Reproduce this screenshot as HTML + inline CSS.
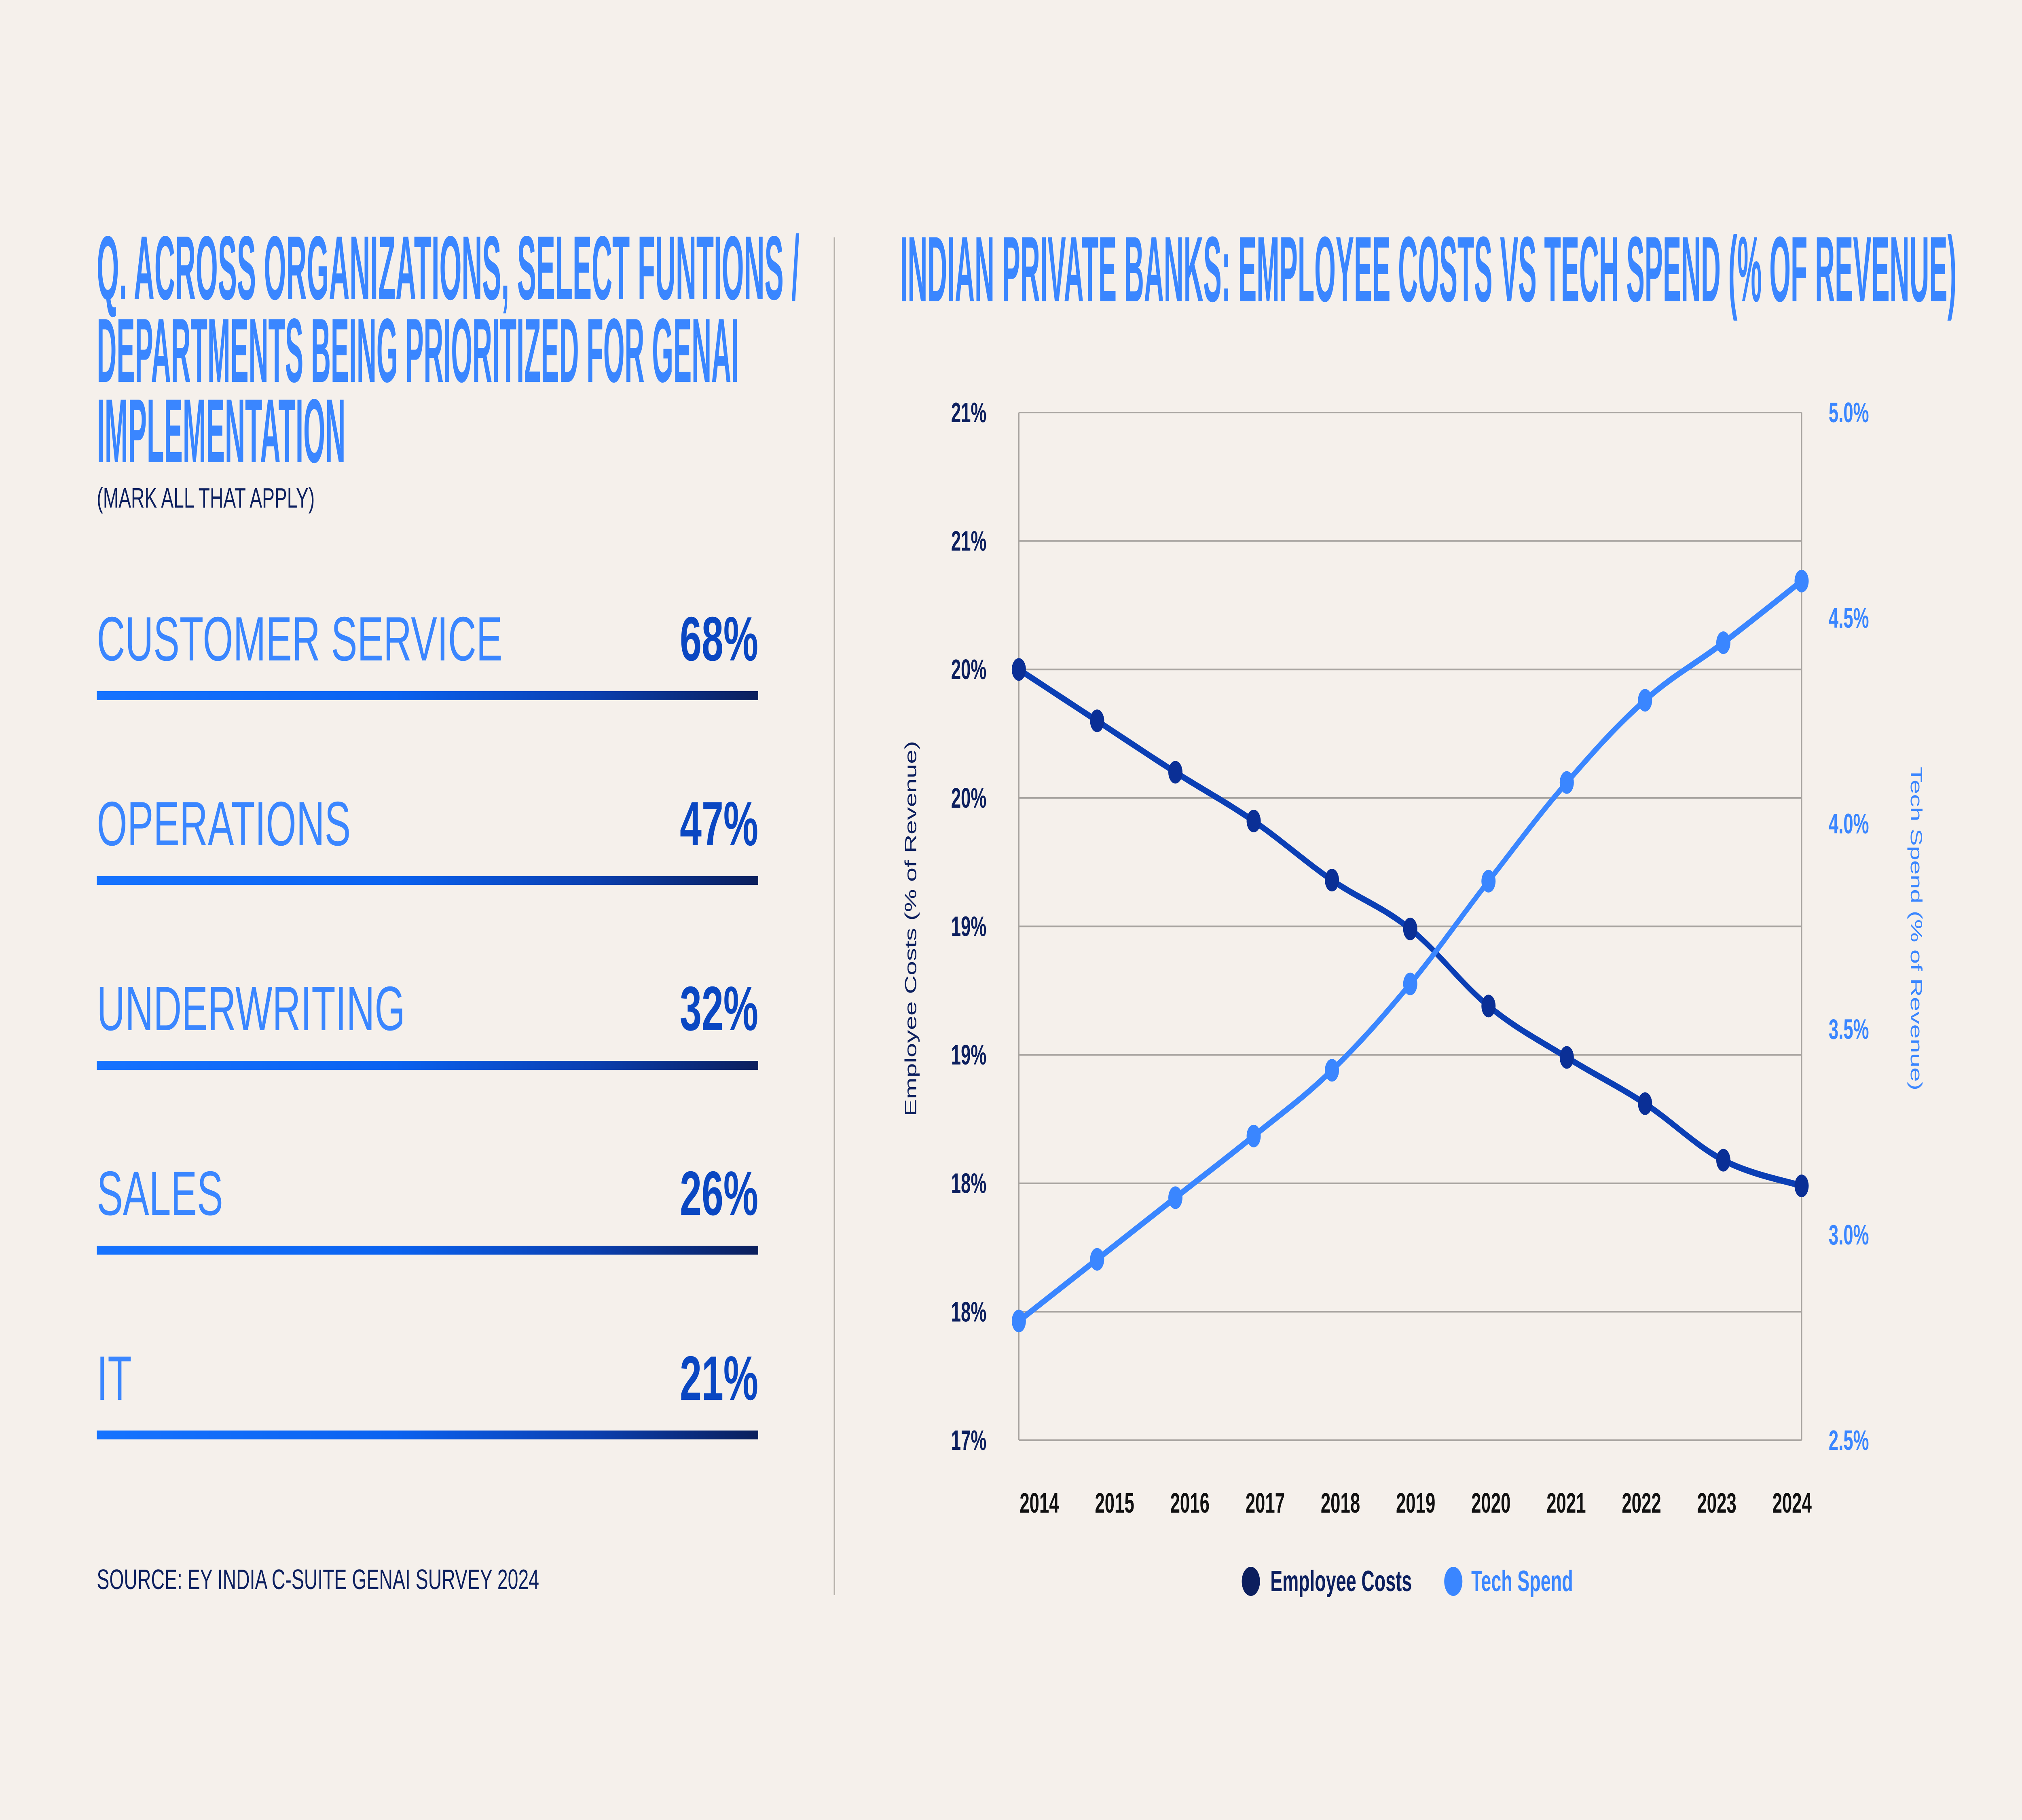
<!DOCTYPE html>
<html><head><meta charset="utf-8"><meta name="viewport" content="width=8000, initial-scale=1"><style>
html,body{margin:0;padding:0;background:#f5f0eb;width:100%;height:100%;overflow:hidden;}
svg{display:block;width:100vw;height:100vh;}
</style></head><body>
<svg id="page" viewBox="0 0 8000 4500" preserveAspectRatio="none" xmlns="http://www.w3.org/2000/svg" font-family="'Liberation Sans', sans-serif" overflow="hidden">
<defs>
<linearGradient id="barGrad" x1="0" x2="1" y1="0" y2="0">
<stop offset="0" stop-color="#1673ff"/><stop offset="0.45" stop-color="#0a62f0"/><stop offset="0.75" stop-color="#0a3fb0"/><stop offset="1" stop-color="#0b1f5c"/>
</linearGradient>
</defs>
<rect x="0" y="0" width="8000" height="4500" fill="#f5f0eb"/>
<g fill="#3a86ff" font-family="'Liberation Sans Narrow','Liberation Sans',sans-serif" font-weight="bold">
<text x="0" y="0" transform="translate(383,740) scale(1,1.73)" font-size="130" textLength="2780" lengthAdjust="spacingAndGlyphs">Q. ACROSS ORGANIZATIONS, SELECT FUNTIONS /</text>
<text x="0" y="0" transform="translate(383,944) scale(1,1.73)" font-size="130" textLength="2540" lengthAdjust="spacingAndGlyphs">DEPARTMENTS BEING PRIORITIZED FOR GENAI</text>
<text x="0" y="0" transform="translate(383,1143) scale(1,1.73)" font-size="130" textLength="984" lengthAdjust="spacingAndGlyphs">IMPLEMENTATION</text>
</g>
<text x="383" y="1255" font-size="70" fill="#0c1f5e" textLength="862" lengthAdjust="spacingAndGlyphs">(MARK ALL THAT APPLY)</text>
<g id="rows"></g>
<text x="383" y="3929" font-size="70" fill="#0c1f5e" textLength="1750" lengthAdjust="spacingAndGlyphs">SOURCE: EY INDIA C-SUITE GENAI SURVEY 2024</text>
<line x1="3301" y1="587" x2="3301" y2="3944" stroke="#b5b0aa" stroke-width="5"/>
<text x="0" y="0" transform="translate(3561,745) scale(1,1.77)" font-size="130" fill="#3a86ff" font-weight="bold" font-family="'Liberation Sans Narrow','Liberation Sans',sans-serif" textLength="4180" lengthAdjust="spacingAndGlyphs">INDIAN PRIVATE BANKS: EMPLOYEE COSTS VS TECH SPEND (% OF REVENUE)</text>
<g id="chart"></g>
</svg>
<script>
const surveyLabels = ['CUSTOMER SERVICE','OPERATIONS','UNDERWRITING','SALES','IT'];
const surveyValues = [68,47,32,26,21];

const years = ['2014','2015','2016','2017','2018','2019','2020','2021','2022','2023','2024'];
const employeeCosts = [20.0,19.80,19.60,19.41,19.18,18.99,18.69,18.49,18.31,18.09,17.99];
const techSpend = [2.79,2.94,3.09,3.24,3.40,3.61,3.86,4.10,4.30,4.44,4.59];
const leftTicks = [17,17.5,18,18.5,19,19.5,20,20.5,21];
const rightTicks = [2.5,3.0,3.5,4.0,4.5,5.0];

const NS='http://www.w3.org/2000/svg';
function mk(tag, attrs, parent, text){
  const e=document.createElementNS(NS,tag);
  for(const k in attrs) e.setAttribute(k, attrs[k]);
  if(text!==undefined) e.textContent=text;
  parent.appendChild(e); return e;
}
const rows=document.getElementById('rows');
surveyLabels.forEach((lab,i)=>{
  const base=1633+i*457;
  const t=mk('text',{x:383,y:base,'font-size':155,fill:'#3a86ff'},rows,lab);
  
  
  const v=mk('text',{x:3000,y:base,'font-size':155,fill:'#0a47c2','font-weight':'bold','text-anchor':'end'},rows,surveyValues[i]+'%');
  
  
  const b=mk('rect',{x:383,y:base+76,width:2617,height:22,fill:'url(#barGrad)'},rows);
  
  
});

const ch=document.getElementById('chart');
const X0=4031,X1=7128,YT=1020,YB=3561;
const xScale=i=>X0+i*(X1-X0)/(years.length-1);
const yLeft=v=>YB-(v-17)/(21-17)*(YB-YT);
const yRight=v=>YB-(v-2.5)/(5-2.5)*(YB-YT);

leftTicks.forEach((t,i)=>{
  const y=yLeft(t);
  const g=mk('line',{x1:X0,x2:X1,y1:y,y2:y,stroke:'#a8a4a0','stroke-width':4},ch);
  
  
  const l=mk('text',{x:3903,y:y+24,'font-size':70,'font-weight':'bold',fill:'#0c1f5e','text-anchor':'end'},ch,Math.round(t)+'%');
  
  
});
rightTicks.forEach(t=>{
  const y=yRight(t);
  const l=mk('text',{x:7235,y:y+24,'font-size':70,'font-weight':'bold',fill:'#3a86ff'},ch,t.toFixed(1)+'%');
  
  
});
[X0,X1].forEach((x,i)=>{
  const a=mk('line',{x1:x,x2:x,y1:YT,y2:YB,stroke:'#a8a4a0','stroke-width':5},ch);
  
  
});
years.forEach((yr,i)=>{
  const lx=4112+i*(7090-4112)/(years.length-1);
  const l=mk('text',{x:lx,y:3740,'font-size':70,'font-weight':'bold',fill:'#111','text-anchor':'middle'},ch,yr);
  
  
});
const lt=mk('text',{x:0,y:0,'font-size':64,fill:'#0c1f5e','text-anchor':'middle',transform:'translate(3625,2296) rotate(-90)'},ch,'Employee Costs (% of Revenue)');


const rt=mk('text',{x:0,y:0,'font-size':64,fill:'#3a86ff','text-anchor':'middle',transform:'translate(7560,2296) rotate(90)'},ch,'Tech Spend (% of Revenue)');



function smoothPath(pts){
  let d='M'+pts[0][0]+','+pts[0][1];
  for(let i=0;i<pts.length-1;i++){
    const p0=pts[Math.max(0,i-1)],p1=pts[i],p2=pts[i+1],p3=pts[Math.min(pts.length-1,i+2)];
    const t=0.18;
    const c1=[p1[0]+(p2[0]-p0[0])*t,p1[1]+(p2[1]-p0[1])*t];
    const c2=[p2[0]-(p3[0]-p1[0])*t,p2[1]-(p3[1]-p1[1])*t];
    d+=' C'+c1+' '+c2+' '+p2;
  }
  return d;
}
function series(vals,yf,lineColor,dotColor,name){
  const pts=vals.map((v,i)=>[xScale(i),yf(v)]);
  const p=mk('path',{d:smoothPath(pts),fill:'none',stroke:lineColor,'stroke-width':16,'stroke-linecap':'round'},ch);
  
  
  pts.forEach(pt=>{
    const c=mk('circle',{cx:pt[0],cy:pt[1],r:28,fill:dotColor},ch);
    
    
  });
}
series(employeeCosts,yLeft,'#0b3fb5','#0a2f96','employee-costs');
series(techSpend,yRight,'#3a86ff','#3a86ff','tech-spend');

const l1=mk('circle',{cx:4949,cy:3910,r:36,fill:'#0c1f5e'},ch);


const l1t=mk('text',{x:5026,y:3934,'font-size':72,'font-weight':'bold',fill:'#0c1f5e'},ch,'Employee Costs');


const l2=mk('circle',{cx:5750,cy:3910,r:36,fill:'#3a86ff'},ch);


const l2t=mk('text',{x:5821,y:3934,'font-size':72,'font-weight':'bold',fill:'#3a86ff'},ch,'Tech Spend');


</script>
</body></html>
